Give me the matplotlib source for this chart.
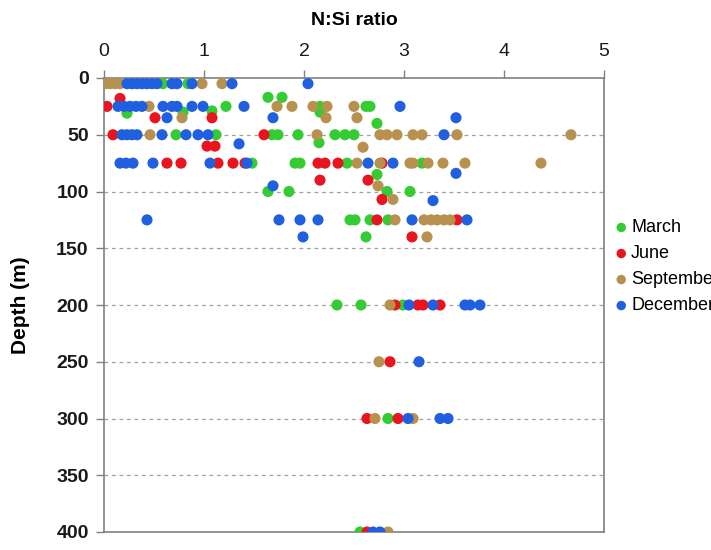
import matplotlib
matplotlib.use("Agg")
import matplotlib.pyplot as plt

plt.rcParams['font.family'] = ['Liberation Sans', 'DejaVu Sans']

# ---- data (N:Si ratio, depth m) ----
march_x = [0.59, 0.84, 1.64, 1.78, 1.22, 2.16, 2.62, 2.66, 0.23, 0.79, 1.08, 2.16, 2.73,
           0.72, 1.12, 1.68, 1.74, 1.94, 2.31, 2.41, 2.50, 2.15,
           1.48, 1.91, 1.96, 2.43, 3.18, 2.73, 1.64, 1.85, 2.83, 3.06,
           2.46, 2.51, 2.66, 2.84, 2.62, 2.33, 2.57, 2.99, 2.84, 2.56]
march_d = [5, 5, 17, 17, 25, 25, 25, 25, 31, 30, 29, 30, 40,
           50, 50, 50, 50, 50, 50, 50, 50, 57,
           75, 75, 75, 75, 75, 85, 100, 100, 100, 100,
           125, 125, 125, 125, 140, 200, 200, 200, 300, 400]

june_x = [0.16, 0.03, 0.51, 1.08, 0.09, 1.60, 1.03, 1.11,
          0.63, 0.77, 1.14, 1.29, 1.41, 2.14, 2.21, 2.34, 2.78,
          2.16, 2.64, 2.78, 2.73, 3.53, 3.08,
          2.91, 3.14, 3.19, 3.36, 2.86, 2.63, 2.94, 2.63]
june_d = [18, 25, 35, 35, 50, 50, 60, 60,
          75, 75, 75, 75, 75, 75, 75, 75, 75,
          90, 90, 107, 125, 125, 140,
          200, 200, 200, 200, 250, 300, 300, 400]

sept_x = [0.01, 0.06, 0.11, 0.16, 0.98, 1.18,
          0.45, 1.73, 1.88, 2.09, 2.23, 2.50,
          0.78, 2.22, 2.53,
          0.46, 2.13, 2.76, 2.83, 2.93, 3.09, 3.18, 3.53, 4.67, 2.59,
          2.53, 2.76, 3.06, 3.09, 3.24, 3.39, 3.61, 4.37,
          2.74, 2.89, 2.91, 3.20, 3.27, 3.33, 3.40, 3.46, 3.23,
          2.86, 2.75, 2.71, 3.09, 2.84]
sept_d = [5, 5, 5, 5, 5, 5,
          25, 25, 25, 25, 25, 25,
          35, 35, 35,
          50, 50, 50, 50, 50, 50, 50, 50, 50, 61,
          75, 75, 75, 75, 75, 75, 75, 75,
          95, 107, 125, 125, 125, 125, 125, 125, 140,
          200, 250, 300, 300, 400]

dec_x = [0.23, 0.28, 0.33, 0.38, 0.43, 0.48, 0.53, 0.68, 0.73, 0.88, 1.28, 2.04,
         0.14, 0.20, 0.26, 0.32, 0.38, 0.59, 0.68, 0.73, 0.88, 0.99, 1.40, 2.96,
         0.63, 1.69, 3.52,
         0.18, 0.23, 0.28, 0.33, 0.58, 0.82, 0.94, 1.04, 3.40, 1.35,
         0.16, 0.22, 0.29, 0.49, 1.06, 1.43, 2.64, 2.89, 3.52,
         1.69, 3.29, 0.43, 1.75, 1.96, 2.14, 3.08, 3.63, 1.99,
         3.05, 3.29, 3.61, 3.66, 3.76, 3.15, 3.04, 3.36, 3.44, 2.69, 2.76]
dec_d = [5, 5, 5, 5, 5, 5, 5, 5, 5, 5, 5, 5,
         25, 25, 25, 25, 25, 25, 25, 25, 25, 25, 25, 25,
         35, 35, 35,
         50, 50, 50, 50, 50, 50, 50, 50, 50, 58,
         75, 75, 75, 75, 75, 75, 75, 75, 84,
         95, 108, 125, 125, 125, 125, 125, 125, 140,
         200, 200, 200, 200, 200, 250, 300, 300, 300, 400, 400]

series = [("March", march_x, march_d, "#33cc33"),
          ("June", june_x, june_d, "#e8141e"),
          ("September", sept_x, sept_d, "#b8914e"),
          ("December", dec_x, dec_d, "#1f5fe0")]

y_ticks = [0, 50, 100, 150, 200, 250, 300, 350, 400]
x_ticks = [0, 1, 2, 3, 4, 5]

fig = plt.figure(figsize=(7.11, 5.5), dpi=100)
ax = fig.add_axes([104/711, 1-532/550, 500/711, (532-78)/550])

for name, xs, ds, col in series:
    ax.scatter(xs, ds, s=64, color=col, edgecolors='none', label=name, zorder=3)

ax.set_xlim(0, 5)
ax.set_ylim(400, 0)
ax.set_xticks(x_ticks)
ax.set_yticks(y_ticks)
ax.xaxis.tick_top()
ax.xaxis.set_label_position('top')
ax.tick_params(axis='both', direction='out', length=6, width=1, color='#808080',
               labelcolor='#1a1a1a')
ax.tick_params(axis='x', pad=7, labelsize=14)
ax.tick_params(axis='y', pad=5, labelsize=14)
for lab in ax.get_yticklabels():
    lab.set_fontweight('bold')
for sp in ax.spines.values():
    sp.set_color('#808080')
    sp.set_linewidth(1.2)

for yv in y_ticks[1:-1]:
    ax.axhline(yv, color='#a0a0a0', linestyle=(0, (3, 3)), linewidth=0.9, zorder=1)

ax.set_xlabel("N:Si ratio", fontsize=14, fontweight='bold', labelpad=13)
ax.set_ylabel("Depth (m)", fontsize=15, fontweight='bold', labelpad=19)

fig.legend(loc='upper left', bbox_to_anchor=(605/711, 1-212/550), frameon=False,
           fontsize=13, handletextpad=0.05, labelspacing=0.5, markerscale=0.85,
           borderaxespad=0, handlelength=1.0, scatterpoints=1)

fig.savefig("out.png", dpi=100)
